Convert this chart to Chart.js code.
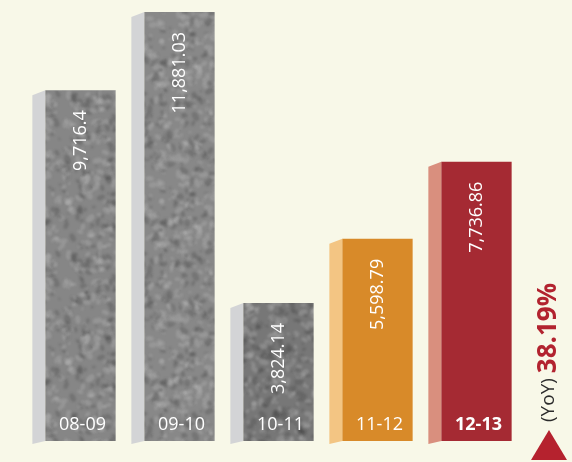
<!DOCTYPE html>
<html>
<head>
<meta charset="utf-8">
<script src="https://cdn.jsdelivr.net/npm/chart.js@4"></script>
<style>
    html, body { margin: 0; padding: 0; background: #f8f8e8; }
    #wrap { position: relative; width: 572px; height: 462px; }
</style>
</head>
<body>
<div id="wrap"><canvas id="revenueChart" width="572" height="462"></canvas></div>
<script>
// Yearly figures
const years = ['08-09', '09-10', '10-11', '11-12', '12-13'];
const amounts = [9716.4, 11881.03, 3824.14, 5598.79, 7736.86];
const valueLabels = ['9,716.4', '11,881.03', '3,824.14', '5,598.79', '7,736.86'];
const yoyLabel = '(YoY)';
const yoyValue = '38.19%';

const frontColors = ['#868686', '#888888', '#777777', '#d88a29', '#a52a33'];
const sideColors = ['#d3d4d6', '#d3d4d6', '#d3d4d6', '#f3c583', '#d98f7e'];
const texturedBars = [true, true, true, false, false];

// Small seeded generator so the stone texture is the same every load
function makeRng(seed) {
    let s = seed;
    return () => {
        s = (s * 1664525 + 1013904223) % 4294967296;
        return s / 4294967296;
    };
}

// Soft mottled grey fill for the stone bars (blobs wrap so the tile is seamless)
function makeStonePattern(ctx, base, seed) {
    const size = 160;
    const c = document.createElement('canvas');
    c.width = size; c.height = size;
    const g = c.getContext('2d');
    g.fillStyle = base;
    g.fillRect(0, 0, size, size);
    const rnd = makeRng(seed);
    g.filter = 'blur(1.2px)';
    for (let i = 0; i < 700; i++) {
        const x = rnd() * size, y = rnd() * size, r = 1.5 + rnd() * 3.5;
        const light = rnd() > 0.45;
        const rot = rnd() * Math.PI;
        g.fillStyle = light ? 'rgba(190,190,190,0.28)' : 'rgba(60,60,60,0.25)';
        for (const dx of [-size, 0, size]) {
            for (const dy of [-size, 0, size]) {
                g.beginPath();
                g.ellipse(x + dx, y + dy, r, r * 0.6, rot, 0, Math.PI * 2);
                g.fill();
            }
        }
    }
    return ctx.createPattern(c, 'repeat');
}

// Left-hand bevel face on each bar
const sideFacePlugin = {
    id: 'sideFace',
    beforeDatasetsDraw(chart) {
        const ctx = chart.ctx;
        chart.getDatasetMeta(0).data.forEach((bar, i) => {
            const left = bar.x - bar.width / 2;
            ctx.save();
            ctx.fillStyle = sideColors[i];
            ctx.beginPath();
            ctx.moveTo(left - 13, bar.y + 5);
            ctx.lineTo(left, bar.y);
            ctx.lineTo(left, bar.base);
            ctx.lineTo(left - 13, bar.base + 3);
            ctx.closePath();
            ctx.fill();
            ctx.restore();
        });
    }
};

// Rotated value labels, year labels and the YoY note
const labelPlugin = {
    id: 'barLabels',
    afterDatasetsDraw(chart) {
        const ctx = chart.ctx;
        chart.getDatasetMeta(0).data.forEach((bar, i) => {
            ctx.save();
            ctx.translate(bar.x, bar.y + 20);
            ctx.rotate(-Math.PI / 2);
            ctx.fillStyle = '#ffffff';
            ctx.font = '18px "Open Sans", sans-serif';
            ctx.textAlign = 'right';
            ctx.textBaseline = 'middle';
            ctx.fillText(valueLabels[i], 0, 0);
            ctx.restore();

            ctx.save();
            ctx.fillStyle = '#ffffff';
            ctx.font = (i === years.length - 1 ? 'bold ' : '') + '18px "Open Sans", sans-serif';
            ctx.textAlign = 'center';
            ctx.textBaseline = 'alphabetic';
            ctx.fillText(years[i], bar.x + 2, bar.base - 11);
            ctx.restore();
        });

        // YoY note on the right edge
        const area = chart.chartArea;
        const cx = area.right + 23;
        ctx.save();
        ctx.fillStyle = '#b5222e';
        ctx.beginPath();
        ctx.moveTo(cx, 430);
        ctx.lineTo(cx + 18, 460);
        ctx.lineTo(cx - 18, 460);
        ctx.closePath();
        ctx.fill();

        ctx.translate(cx, 422);
        ctx.rotate(-Math.PI / 2);
        ctx.textBaseline = 'middle';
        ctx.textAlign = 'left';
        ctx.font = '19px "Open Sans", sans-serif';
        ctx.fillStyle = '#2b2b2b';
        ctx.fillText(yoyLabel, 0, 0);
        const w = ctx.measureText(yoyLabel + ' ').width;
        ctx.font = 'bold 26px "Open Sans", sans-serif';
        ctx.fillStyle = '#b2232f';
        ctx.fillText(yoyValue, w, 0);
        ctx.restore();
    }
};

const ctx = document.getElementById('revenueChart').getContext('2d');
const fills = frontColors.map((c, i) => texturedBars[i] ? makeStonePattern(ctx, c, 17 + i * 31) : c);

new Chart(ctx, {
    type: 'bar',
    data: {
        labels: years,
        datasets: [{
            data: amounts,
            backgroundColor: fills,
            borderWidth: 0,
            barPercentage: 0.71,
            categoryPercentage: 1.0
        }]
    },
    options: {
        responsive: false,
        animation: false,
        layout: { padding: { left: 31, right: 46, top: 0, bottom: 21 } },
        plugins: { legend: { display: false }, tooltip: { enabled: false } },
        scales: {
            x: { display: false },
            y: { display: false, min: 0, max: 12213 }
        }
    },
    plugins: [sideFacePlugin, labelPlugin]
});
</script>
</body>
</html>
